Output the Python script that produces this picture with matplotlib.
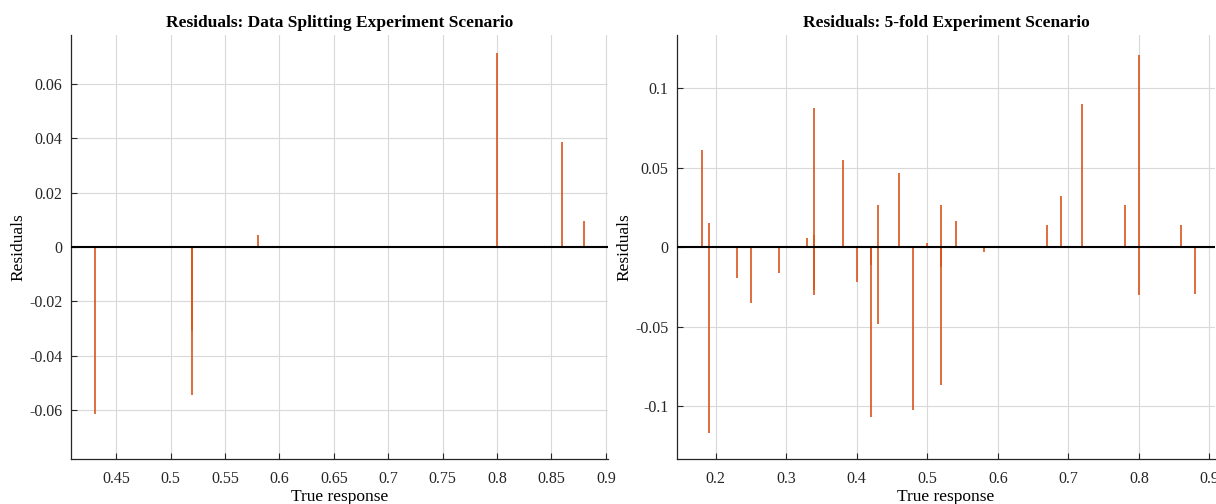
import numpy as np
import matplotlib.pyplot as plt

plt.rcParams['font.family'] = ['Liberation Serif', 'DejaVu Serif']

# Data splitting scenario: true response vs residual
split_true = [0.43, 0.52, 0.52, 0.58, 0.80, 0.86, 0.88]
split_res = [-0.0615, -0.0545, -0.031, 0.0043, 0.0713, 0.0388, 0.0094]

# 5-fold scenario
fold_true = [0.18, 0.19, 0.19, 0.23, 0.25, 0.29, 0.33, 0.34, 0.34, 0.34, 0.34,
             0.38, 0.40, 0.42, 0.42, 0.43, 0.43, 0.46, 0.48, 0.50, 0.52, 0.52,
             0.52, 0.54, 0.58, 0.67, 0.69, 0.72, 0.78, 0.80, 0.80, 0.86, 0.88]
fold_res = [0.061, 0.0154, -0.1164, -0.0195, -0.0347, -0.0164, 0.0056, 0.0875,
            0.008, -0.0297, -0.027, 0.0547, -0.0218, -0.1068, -0.011, 0.0267,
            -0.0483, 0.0468, -0.1019, 0.0025, 0.0267, -0.0867, -0.0122, 0.0167,
            -0.0031, 0.0138, 0.0324, 0.090, 0.0267, 0.1209, -0.0301, 0.0138,
            -0.0295]

split_xticks = np.arange(0.45, 0.901, 0.05)
split_yticks = [-0.06, -0.04, -0.02, 0, 0.02, 0.04, 0.06]
fold_xticks = np.arange(0.2, 0.901, 0.1)
fold_yticks = [-0.1, -0.05, 0, 0.05, 0.1]

stem_color = '#D95319'

fig = plt.figure(figsize=(12.16, 5.04), dpi=100)
ax1 = fig.add_axes([0.0581, 0.0893, 0.4419, 0.8413])
ax2 = fig.add_axes([0.5567, 0.0893, 0.4425, 0.8413])


def draw(ax, x, r, title, xlim, ylim, xticks, yticks):
    ax.vlines(x, 0, r, color=stem_color, lw=1.4, alpha=0.85, zorder=3)
    ax.axhline(0, color='black', lw=1.5, zorder=4)
    ax.set_xlim(*xlim)
    ax.set_ylim(*ylim)
    ax.set_xticks(xticks)
    ax.set_xticklabels([f'{t:g}' for t in np.round(xticks, 2)])
    ax.set_yticks(yticks)
    ax.set_yticklabels([f'{t:g}' for t in yticks])
    ax.grid(True, color='#d9d9d9', lw=0.8)
    ax.set_axisbelow(True)
    for s in ['top', 'right']:
        ax.spines[s].set_visible(False)
    for s in ['left', 'bottom']:
        ax.spines[s].set_color('#262626')
        ax.spines[s].set_linewidth(0.9)
    ax.tick_params(direction='in', length=4, labelsize=11.5, colors='#262626')
    ax.tick_params(axis='x', pad=9)
    ax.tick_params(axis='y', pad=6)
    ax.set_title(title, fontsize=12.5, fontweight='bold', pad=6)
    ax.set_xlabel('True response', fontsize=12.5, labelpad=1)
    ax.set_ylabel('Residuals', fontsize=12.5, labelpad=2)


draw(ax1, split_true, split_res, 'Residuals: Data Splitting Experiment Scenario',
     (0.408, 0.902), (-0.078, 0.078), split_xticks, split_yticks)
draw(ax2, fold_true, fold_res, 'Residuals: 5-fold Experiment Scenario',
     (0.145, 0.908), (-0.133, 0.1335), fold_xticks, fold_yticks)

fig.savefig('out.png', dpi=100)
